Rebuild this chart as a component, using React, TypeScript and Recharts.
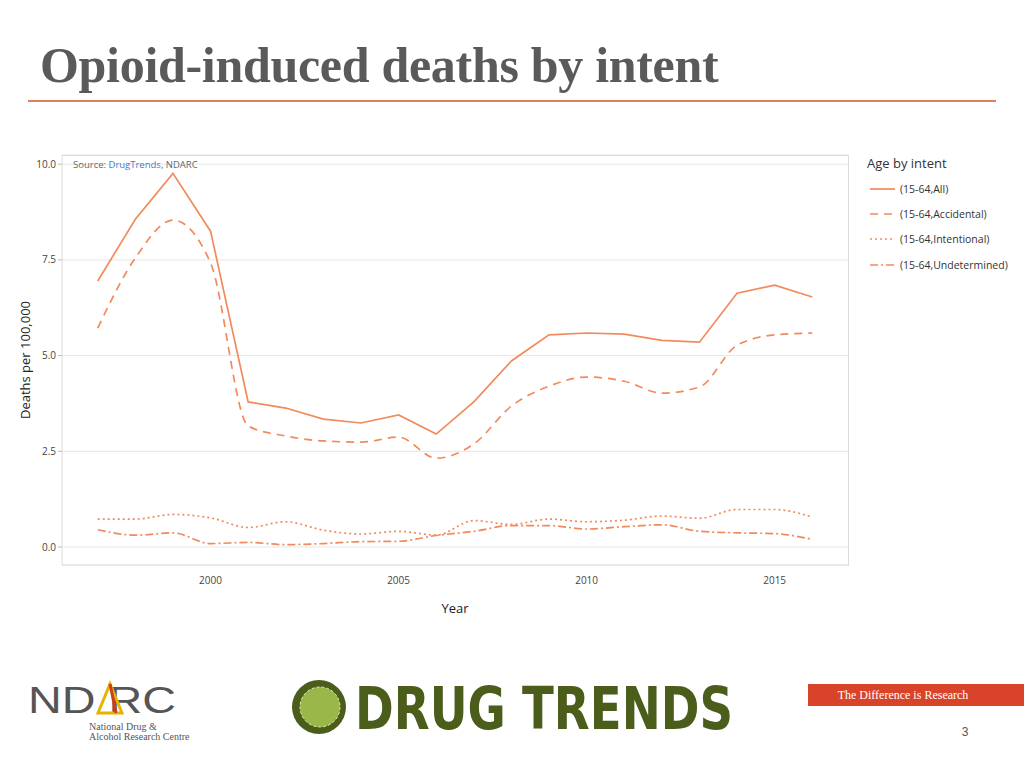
import React from "react";
import { LineChart, Line, XAxis, YAxis, CartesianGrid } from "recharts";

const years = [1997, 1998, 1999, 2000, 2001, 2002, 2003, 2004, 2005, 2006, 2007, 2008, 2009, 2010, 2011, 2012, 2013, 2014, 2015, 2016];
const allValues = [6.95, 8.56, 9.76, 8.25, 3.79, 3.63, 3.34, 3.24, 3.45, 2.95, 3.79, 4.86, 5.54, 5.59, 5.56, 5.4, 5.35, 6.63, 6.84, 6.53];
const accidentalValues = [5.72, 7.55, 8.54, 7.42, 3.16, 2.9, 2.77, 2.74, 2.87, 2.32, 2.69, 3.68, 4.2, 4.44, 4.33, 4.02, 4.18, 5.27, 5.54, 5.59];
const intentionalValues = [0.73, 0.73, 0.85, 0.76, 0.51, 0.66, 0.44, 0.34, 0.41, 0.31, 0.69, 0.59, 0.73, 0.66, 0.7, 0.81, 0.75, 0.98, 0.98, 0.78];
const undeterminedValues = [0.45, 0.31, 0.37, 0.09, 0.12, 0.06, 0.09, 0.14, 0.15, 0.3, 0.41, 0.56, 0.56, 0.47, 0.53, 0.58, 0.41, 0.37, 0.35, 0.2];
const xTicks = [2000, 2005, 2010, 2015];
const yTicks = [0, 2.5, 5, 7.5, 10];
const seriesNames = ["(15-64,All)", "(15-64,Accidental)", "(15-64,Intentional)", "(15-64,Undetermined)"];

const ORANGE = "#f28a5c";
const dashes = ["", "8 6", "2 3", "8 3 2 3"];
const curves: ("linear" | "monotoneX")[] = ["linear", "monotoneX", "monotoneX", "monotoneX"];
const keys = ["all", "accidental", "intentional", "undetermined"];

const data = years.map((y, i) => ({
  year: y,
  all: allValues[i],
  accidental: accidentalValues[i],
  intentional: intentionalValues[i],
  undetermined: undeterminedValues[i],
}));

const FONT = "'Open Sans', 'Noto Sans', sans-serif";

export default function App() {
  return (
    <div style={{ position: "absolute", left: 0, top: 0, width: 1024, height: 768, background: "#fff", overflow: "hidden" }}>
      <div style={{ position: "absolute", left: 40, top: 36, fontFamily: "'Liberation Serif', serif", fontWeight: 700, fontSize: 50, color: "#5a5a5a", letterSpacing: -0.3, whiteSpace: "nowrap" }}>
        Opioid-induced deaths by intent
      </div>
      <div style={{ position: "absolute", left: 28, top: 100, width: 968, height: 2, background: "#d9805f" }} />

      <div style={{ position: "absolute", left: 0, top: 0 }}>
        <LineChart width={1024} height={768} data={data} margin={{ top: 155, right: 176, bottom: 173, left: 22 }}>
          <CartesianGrid vertical={false} stroke="#e6e6e6" />
          <XAxis
            dataKey="year"
            type="number"
            domain={[1996.05, 2016.95]}
            ticks={xTicks}
            allowDataOverflow
            tickLine={false}
            axisLine={{ stroke: "#dcdcdc" }}
            tick={{ fontSize: 10, fill: "#444", fontFamily: FONT }}
            height={30}
            tickMargin={6}
          />
          <YAxis
            type="number"
            domain={[-0.47, 10.24]}
            ticks={yTicks}
            allowDataOverflow
            width={40}
            tickFormatter={(v: number) => v.toFixed(1)}
            tickLine={{ stroke: "#bbb" }}
            tickSize={4}
            axisLine={{ stroke: "#dcdcdc" }}
            tick={{ fontSize: 10, fill: "#444", fontFamily: FONT }}
          />
          {keys.map((k, i) => (
            <Line
              key={k}
              dataKey={k}
              name={seriesNames[i]}
              type={curves[i]}
              stroke={ORANGE}
              strokeWidth={1.7}
              strokeDasharray={dashes[i] || undefined}
              dot={false}
              isAnimationActive={false}
            />
          ))}
        </LineChart>
      </div>

      {/* legend */}
      <div style={{ position: "absolute", left: 867, top: 154, fontFamily: FONT, color: "#333" }}>
        <div style={{ fontSize: 13, marginBottom: 4 }}>Age by intent</div>
        {seriesNames.map((n, i) => (
          <div key={n} style={{ display: "flex", alignItems: "center", height: 25.3, fontSize: 10.5, marginLeft: 3 }}>
            <svg width={30} height={10}>
              <line x1={0} y1={5} x2={25} y2={5} stroke={ORANGE} strokeWidth={1.7} strokeDasharray={dashes[i] || undefined} />
            </svg>
            <span>{n}</span>
          </div>
        ))}
      </div>

      {/* plot frame top/right */}
      <div style={{ position: "absolute", left: 62, top: 155, width: 786, height: 410, border: "1px solid #dcdcdc", borderLeft: "none", borderBottom: "none", pointerEvents: "none" }} />

      <div style={{ position: "absolute", left: 73, top: 158, fontFamily: FONT, fontSize: 9.5, color: "#666" }}>
        Source: <span style={{ color: "#3b7dd8" }}>DrugTrends</span>, NDARC
      </div>

      <div style={{ position: "absolute", left: 25, top: 360, transform: "translate(-50%, -50%) rotate(-90deg)", fontFamily: FONT, fontSize: 13, color: "#222", whiteSpace: "nowrap" }}>
        Deaths per 100,000
      </div>
      <div style={{ position: "absolute", left: 455, top: 608, transform: "translate(-50%, -50%)", fontFamily: FONT, fontSize: 13, color: "#222" }}>
        Year
      </div>

      {/* footer */}
      <svg style={{ position: "absolute", left: 0, top: 670 }} width={1024} height={98}>
        <text x={28} y={43} fontFamily="'Liberation Sans', sans-serif" fontSize={37} fill="#555" fontWeight={300} textLength={148} lengthAdjust="spacingAndGlyphs">ND  RC</text>
        <polygon points="98,43 110,14 122,43" fill="none" stroke="#e6b400" strokeWidth={3} />
        <line x1={110} y1={14} x2={116} y2={43} stroke="#d23c1e" strokeWidth={3} />
        <text x={89} y={60} fontFamily="'Liberation Serif', serif" fontSize={10} fill="#555">National Drug &amp;</text>
        <text x={89} y={70} fontFamily="'Liberation Serif', serif" fontSize={10} fill="#555">Alcohol Research Centre</text>

        <circle cx={319} cy={37} r={27} fill="#4b5d1a" />
        <circle cx={320} cy={37} r={20} fill="#9ab84a" />
        <circle cx={320} cy={37} r={20} fill="none" stroke="#dfe8b0" strokeWidth={1} strokeDasharray="3 2" />
        <text x={355} y={59} fontFamily="'DejaVu Sans Condensed', 'DejaVu Sans', sans-serif" fontWeight={900} fontSize={58} fill="#4b5d1a" textLength={378} lengthAdjust="spacingAndGlyphs">DRUG TRENDS</text>

        <rect x={808} y={14} width={216} height={22} fill="#d9432a" />
        <text x={903} y={29} textAnchor="middle" fontFamily="'Liberation Serif', serif" fontSize={12} fill="#fff">The Difference is Research</text>
        <text x={965} y={66} textAnchor="middle" fontFamily="'Liberation Sans', sans-serif" fontSize={12} fill="#555">3</text>
      </svg>
    </div>
  );
}
